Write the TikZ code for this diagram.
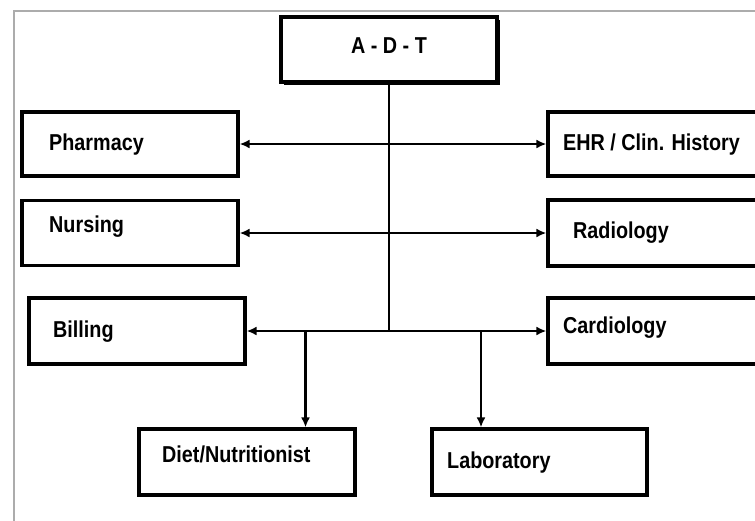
\documentclass[tikz,border=0pt]{standalone}
\usepackage{fontspec}
\setmainfont{Liberation Sans}
\newfontfamily\narrowsans[FakeStretch=0.86]{Liberation Sans}
\usetikzlibrary{arrows.meta,shadows}
\begin{document}
\begin{tikzpicture}[x=1pt,y=-1pt,
  box/.style={draw=black, line width=3.2pt, rectangle, inner sep=0pt, fill=white},
  lbl/.style={anchor=base west, inner sep=0pt, font=\narrowsans\fontsize{23}{27}\selectfont\bfseries},
  conn/.style={line width=2.8pt},
  tip/.style={-{Latex[length=10pt,width=9pt]}},
  tips/.style={{Latex[length=10pt,width=9pt]}-{Latex[length=10pt,width=9pt]}}
]
\useasboundingbox (0,0) rectangle (755,520);
\clip (0,0) rectangle (755,520);
\fill[white] (0,0) rectangle (755,520);
% frame
\draw[gray!65, line width=1.8pt] (14,522) -- (14,11) -- (757,11);
% boxes
\node[box, minimum width=216pt, minimum height=65pt,
      drop shadow={shadow xshift=2.5pt, shadow yshift=-2.5pt, fill=black, opacity=1}] (adt) at (389,49.5) {};
\node[box, minimum width=216pt, minimum height=64pt] (pharm) at (130,144) {};
\node[box, minimum width=216pt, minimum height=65pt] (nurs) at (130,233) {};
\node[box, minimum width=216pt, minimum height=66pt] (bill) at (137,331) {};
\node[box, minimum width=216pt, minimum height=64pt] (ehr) at (656,144) {};
\node[box, minimum width=216pt, minimum height=66pt] (radio) at (656,233) {};
\node[box, minimum width=216pt, minimum height=66pt] (cardio) at (656,331) {};
\node[box, minimum width=216pt, minimum height=66pt] (diet) at (247,462) {};
\node[box, minimum width=215pt, minimum height=66pt] (lab) at (539.5,462) {};
% labels
\node[lbl, anchor=base] (tadt) at (389,53) {A - D - T};
\node[lbl] (tpharm) at (49,150) {Pharmacy};
\node[lbl] (tnurs) at (49,232) {Nursing};
\node[lbl] (tbill) at (53,337) {Billing};
\node[lbl] (tehr) at (563,150) {EHR / Clin. History};
\node[lbl] (tradio) at (573,238) {Radiology};
\node[lbl] (tcardio) at (563,333) {Cardiology};
\node[lbl] (tdiet) at (162,462) {Diet/Nutritionist};
\node[lbl] (tlab) at (447,468) {Laboratory};
% connectors
\draw[conn] (adt.south) -- (adt.south |- bill.east);
\draw[conn,tips] (pharm.east) -- (ehr.west);
\draw[conn,tips] (nurs.east) -- (radio.west);
\draw[conn,tips] (bill.east) -- (cardio.west);
\coordinate (j1) at (305.5,331);
\coordinate (j2) at (481,331);
\draw[conn,tip] (j1) -- (j1 |- diet.north);
\draw[conn,tip] (j2) -- (j2 |- lab.north);
\end{tikzpicture}
\end{document}
